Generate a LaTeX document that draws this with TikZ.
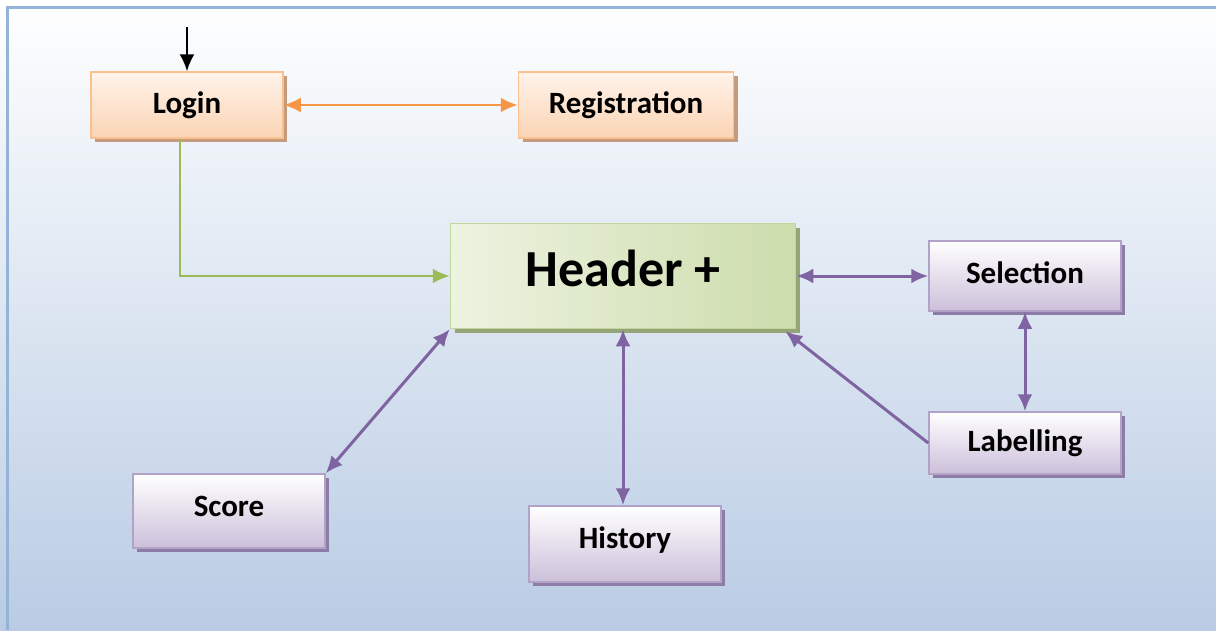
\documentclass[tikz,border=0pt]{standalone}
\usepackage{fontspec}
\setmainfont{Carlito}
\usepackage{xcolor}
\usepackage{tikz}
\usetikzlibrary{positioning, shadows, arrows.meta}

\definecolor{bgblue}{RGB}{185,204,228}
\definecolor{frameblue}{RGB}{149,179,215}
\definecolor{orangeline}{RGB}{247,150,70}
\definecolor{orangeedge}{RGB}{250,192,143}
\definecolor{orangetop}{RGB}{255,243,234}
\definecolor{orangebot}{RGB}{251,212,180}
\definecolor{orangeshadow}{RGB}{196,155,125}
\definecolor{greenline}{RGB}{155,187,89}
\definecolor{greenedge}{RGB}{195,214,155}
\definecolor{greenlight}{RGB}{237,243,225}
\definecolor{greendark}{RGB}{205,221,172}
\definecolor{greenshadow}{RGB}{150,165,120}
\definecolor{purpleline}{RGB}{128,100,162}
\definecolor{purpleedge}{RGB}{179,162,199}
\definecolor{purplebot}{RGB}{204,192,218}
\definecolor{purpleshadow}{RGB}{141,124,166}

\newcommand{\lift}[2]{\raisebox{#1}[\height][\depth]{#2}}

\tikzset{
  base/.style={draw, line width=1.5pt, align=center, font=\bfseries\fontsize{31}{36}\selectfont},
  loginbox/.style={base, draw=orangeedge, top color=orangetop, bottom color=orangebot,
    drop shadow={shadow xshift=4pt, shadow yshift=-4pt, fill=orangeshadow, opacity=1}},
  headerbox/.style={base, draw=greenedge, shading angle=60, left color=greenlight, right color=greendark,
    font=\bfseries\fontsize{52}{60}\selectfont,
    drop shadow={shadow xshift=4pt, shadow yshift=-4pt, fill=greenshadow, opacity=1}},
  viewbox/.style={base, draw=purpleedge, top color=white, bottom color=purplebot,
    drop shadow={shadow xshift=4pt, shadow yshift=-4pt, fill=purpleshadow, opacity=1}},
}

\begin{document}
\begin{tikzpicture}[x=1pt, y=-1pt, >={Latex[length=17pt,width=15pt]}]
            \useasboundingbox (0,0) rectangle (1216,630);
            % Background
            \fill[top color=white, bottom color=bgblue] (0,0) rectangle (1216,630);
            \draw[frameblue, line width=3pt] (7,630) -- (7,7) -- (1216,7);

            % Nodes
            \node[loginbox, minimum width=192pt, minimum height=66pt] (login) at (187,105) {Login};
            \node[loginbox, minimum width=215pt, minimum height=66pt] (registration) at (626,105) {Registration};
            \node[headerbox, minimum width=345pt, minimum height=105pt] (header) at (623,276) {\lift{8pt}{Header +}};
            \node[viewbox, minimum width=192pt, minimum height=70pt] (selection) at (1025,276) {\lift{3pt}{Selection}};
            \node[viewbox, minimum width=192pt, minimum height=62pt] (labelling) at (1025,443) {Labelling};
            \node[viewbox, minimum width=192pt, minimum height=74pt] (score) at (229,511) {\lift{5pt}{Score}};
            \node[viewbox, minimum width=192pt, minimum height=76pt] (history) at (625,544) {\lift{4pt}{History}};
            \coordinate (start) at (187,27);

            % Arrows
            \draw[->, line width=2pt] (start) -- (login.north);
            \draw[<->, orangeline, line width=2.5pt] (login.east) -- (registration.west);
            \draw[->, greenline, line width=2.5pt] ([xshift=-7pt]login.south) |- (header.west);
            \draw[<->, purpleline, line width=3pt] (header.east) -- (selection.west);
            \draw[<->, purpleline, line width=3pt] (selection.south) -- (labelling.north);
            \draw[->, purpleline, line width=3pt] (labelling.west) -- ([xshift=-11pt,yshift=-2pt]header.south east);
            \draw[<->, purpleline, line width=3pt] (header.south) -- (header.south |- history.north);
            \draw[<->, purpleline, line width=3pt] (header.south west) -- (score.north east);
\end{tikzpicture}
\end{document}
